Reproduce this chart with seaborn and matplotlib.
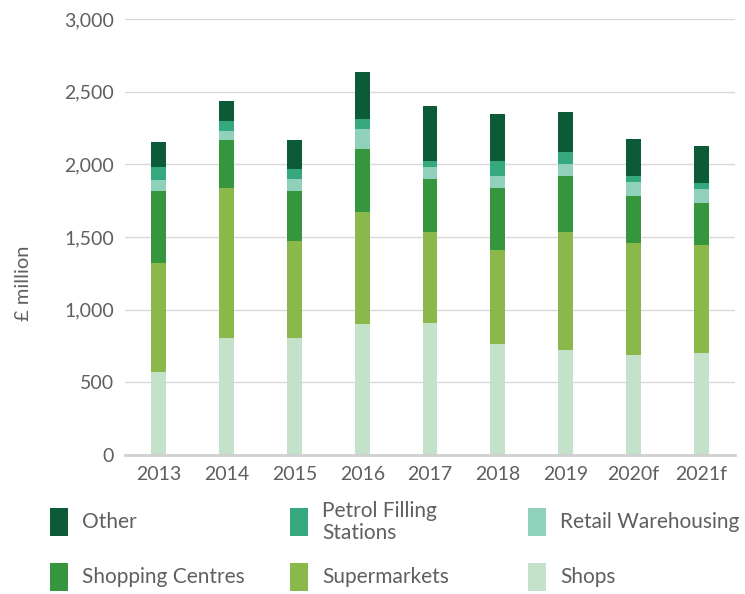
import matplotlib as mpl
import matplotlib.pyplot as plt
from matplotlib.patches import Rectangle
import seaborn as sns
import numpy as np
import pandas as pd


YEARS = ["2013", "2014", "2015", "2016", "2017", "2018", "2019", "2020f", "2021f"]

# stacked from the bottom up (£ million)
SHOPS = [570, 806, 806, 902, 907, 765, 723, 685, 701]
SUPERMARKETS = [754, 1028, 669, 767, 625, 643, 814, 776, 742]
SHOPPING_CENTRES = [494, 330, 343, 438, 369, 426, 382, 323, 293]
RETAIL_WAREHOUSING = [71, 67, 80, 139, 84, 85, 82, 94, 96]
PETROL = [90, 68, 67, 64, 40, 106, 81, 41, 37]
OTHER = [173, 138, 199, 326, 375, 322, 277, 257, 256]

SERIES = ["Shops", "Supermarkets", "Shopping Centres", "Retail Warehousing",
          "Petrol Filling\nStations", "Other"]
COLORS = ["#c3e2c9", "#8bb84a", "#36963d", "#8fd1bb", "#36a87e", "#0b5c36"]

# legend order as in the reference (row by row)
LEGEND_ORDER = ["Other", "Petrol Filling\nStations", "Retail Warehousing",
                "Shopping Centres", "Supermarkets", "Shops"]

TEXT = "#5f5f5f"

sns.set_theme(style="white")
plt.rcParams["font.family"] = ["Lato", "DejaVu Sans"]

W, H = 745, 594
fig = plt.figure(figsize=(W / 100, H / 100), dpi=100)
ax = fig.add_axes([125 / W, 1 - 455 / H, 610 / W, 436 / H])

df = pd.DataFrame({"year": YEARS, "Shops": SHOPS, "Supermarkets": SUPERMARKETS,
                   "Shopping Centres": SHOPPING_CENTRES,
                   "Retail Warehousing": RETAIL_WAREHOUSING,
                   "Petrol Filling\nStations": PETROL, "Other": OTHER})

bottom = np.zeros(len(YEARS))
for name, color in zip(SERIES, COLORS):
    sns.barplot(data=df, x="year", y=name, color=color, width=0.22,
                bottom=bottom, saturation=1, linewidth=0, ax=ax)
    bottom += df[name].to_numpy()

ax.set_xlim(-0.5, len(YEARS) - 0.5)
ax.set_ylim(0, 3000)
ax.set_yticks(np.arange(0, 3001, 500))
ax.yaxis.set_major_formatter(mpl.ticker.StrMethodFormatter("{x:,.0f}"))
ax.grid(axis="y", color="#d9d9d9", linewidth=1)
ax.set_axisbelow(True)
for s in ["top", "right", "left"]:
    ax.spines[s].set_visible(False)
ax.spines["bottom"].set_color("#d0d0d0")
ax.spines["bottom"].set_linewidth(2)
ax.tick_params(length=0, labelsize=14, colors=TEXT, pad=8)
ax.set_xlabel("")
ax.set_ylabel("£ million", fontsize=14.5, color=TEXT)
ax.yaxis.set_label_coords(-0.152, 0.395)

# legend laid out in three even columns, two rows
col_x = [50, 290, 528]
row_y = [522, 577]
for i, name in enumerate(LEGEND_ORDER):
    cx = col_x[i % 3]
    cy = row_y[i // 3]
    color = COLORS[SERIES.index(name)]
    fig.add_artist(Rectangle((cx / W, 1 - (cy + 14) / H), 18 / W, 28 / H,
                             transform=fig.transFigure, color=color, lw=0))
    fig.text((cx + 32) / W, 1 - cy / H, name, fontsize=15, color=TEXT,
             va="center", ha="left", linespacing=1.15)

plt.savefig("out.png", dpi=100)
plt.close()
